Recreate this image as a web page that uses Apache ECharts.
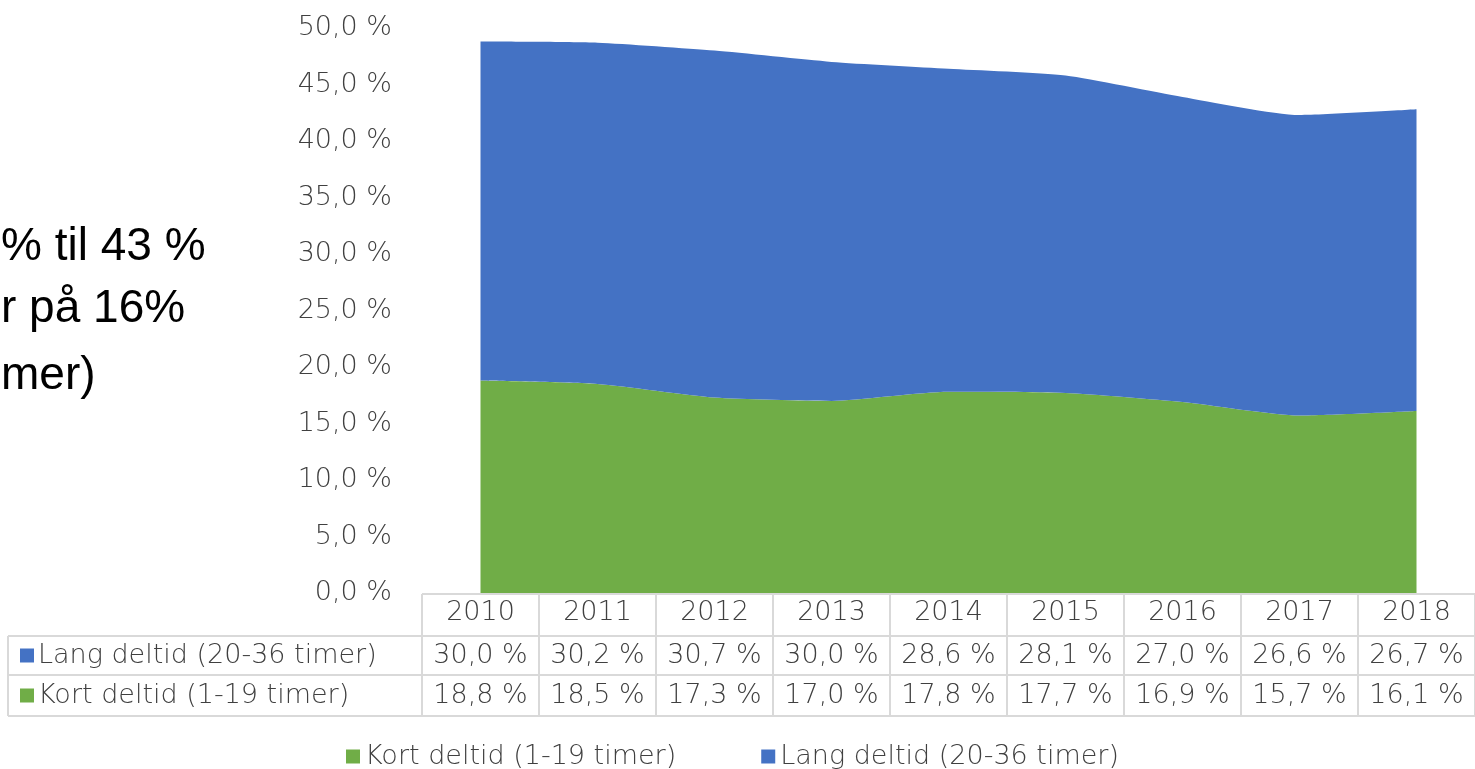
<!doctype html>
<html>
<head>
<meta charset="utf-8">
<script src="https://cdn.jsdelivr.net/npm/echarts@6/dist/echarts.min.js"></script>
<style>
    html, body { margin: 0; padding: 0; background: #fff; }
    #main { width: 1475px; height: 769px; }
</style>
</head>
<body>
<div id="main"></div>
<script>
var years = ['2010', '2011', '2012', '2013', '2014', '2015', '2016', '2017', '2018'];
var kortName = 'Kort deltid (1-19 timer)';
var langName = 'Lang deltid (20-36 timer)';
var kort = [18.8, 18.5, 17.3, 17.0, 17.8, 17.7, 16.9, 15.7, 16.1];
var lang = [30.0, 30.2, 30.7, 30.0, 28.6, 28.1, 27.0, 26.6, 26.7];
var sideText = ['% til 43 %', 'r på 16%', 'mer)'];

var green = '#70AD47', blue = '#4472C4', txt = '#404040', border = '#d9d9d9';
var font = 'DejaVu Sans';
var fw = 200;
var fs = 27;

function pct(v) {
    return v.toFixed(1).replace('.', ',') + ' %';
}

var myChart = echarts.init(document.getElementById('main'));

var option = {
    animation: false,
    textStyle: { fontFamily: font },
    grid: { left: 422, top: 28, width: 1062, height: 565, containLabel: false },
    legend: {
        data: [kortName, langName],
        left: 341, top: 738,
        icon: 'rect', itemWidth: 14, itemHeight: 14, itemGap: 85,
        textStyle: { fontSize: fs, color: txt, fontFamily: font, fontWeight: fw }
    },
    xAxis: {
        type: 'category',
        data: years,
        boundaryGap: true,
        axisLine: { show: false },
        axisTick: { show: false },
        axisLabel: { fontSize: fs, color: txt, margin: 6, fontFamily: font, fontWeight: fw }
    },
    yAxis: {
        type: 'value',
        min: 0, max: 50, interval: 5,
        axisLine: { show: false },
        axisTick: { show: false },
        splitLine: { show: false },
        axisLabel: { fontSize: fs, color: txt, margin: 30, fontFamily: font, fontWeight: fw, formatter: pct }
    },
    series: [{
        name: kortName,
        type: 'line',
        stack: 'a',
        data: kort,
        smooth: 0.2,
        showSymbol: false,
        itemStyle: { color: green },
        lineStyle: { width: 0 },
        areaStyle: { color: green, opacity: 1 }
    }, {
        name: langName,
        type: 'line',
        stack: 'a',
        data: lang,
        smooth: 0.2,
        showSymbol: false,
        itemStyle: { color: blue },
        lineStyle: { width: 0 },
        areaStyle: { color: blue, opacity: 1 }
    }]
};
myChart.setOption(option);

// data table under the plot
var x0 = myChart.convertToPixel({ xAxisIndex: 0 }, 0);
var colW = myChart.convertToPixel({ xAxisIndex: 0 }, 1) - x0;
var tblLeft = x0 - colW / 2;
var yHead = 594, yR1 = 636, yR2 = 675, yEnd = 716, xRow = 8, xMax = 1475;
var g = [];
function hline(x1, x2, y) {
    g.push({ type: 'line', shape: { x1: x1, y1: y, x2: x2, y2: y }, style: { stroke: border, lineWidth: 2 } });
}
function vline(x, y1, y2) {
    g.push({ type: 'line', shape: { x1: x, y1: y1, x2: x, y2: y2 }, style: { stroke: border, lineWidth: 2 } });
}
hline(tblLeft, xMax, yHead);
hline(xRow, xMax, yR1);
hline(xRow, xMax, yR2);
hline(xRow, xMax, yEnd);
vline(xRow, yR1, yEnd);
for (var i = 0; i <= years.length; i++) {
    vline(tblLeft + i * colW, yHead, yEnd);
}
var rows = [{ name: langName, color: blue, vals: lang, y: (yR1 + yR2) / 2 },
            { name: kortName, color: green, vals: kort, y: (yR2 + yEnd) / 2 }];
rows.forEach(function (r) {
    g.push({ type: 'rect', shape: { x: 20, y: r.y - 7, width: 14, height: 14 }, style: { fill: r.color } });
    g.push({ type: 'text', x: 38, y: r.y, style: { text: r.name, fontSize: fs, fontFamily: font, fontWeight: fw, fill: txt, verticalAlign: 'middle', align: 'left' } });
    r.vals.forEach(function (v, j) {
        g.push({ type: 'text', x: x0 + j * colW, y: r.y, style: { text: pct(v), fontSize: fs, fontFamily: font, fontWeight: fw, fill: txt, verticalAlign: 'middle', align: 'center' } });
    });
});
// clipped slide text at left
var sideY = [247, 309, 376];
sideText.forEach(function (t, k) {
    g.push({ type: 'text', x: 1, y: sideY[k], style: { text: t, fontSize: 46, fontFamily: 'Liberation Sans', fill: '#000', verticalAlign: 'middle', align: 'left' } });
});
myChart.setOption({ graphic: g });
</script>
</body>
</html>
